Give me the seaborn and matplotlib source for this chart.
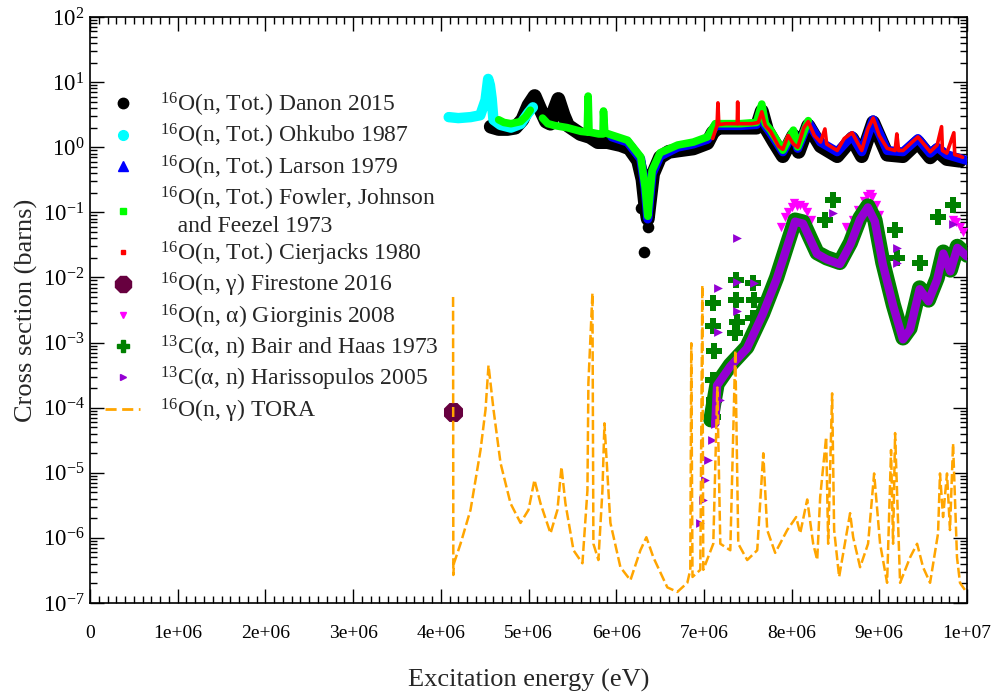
import matplotlib
matplotlib.use('Agg')
import matplotlib.pyplot as plt
from matplotlib.lines import Line2D
from matplotlib.ticker import MultipleLocator, LogLocator, FuncFormatter, NullFormatter, LogFormatterMathtext
import seaborn as sns
import numpy as np

sns.set_style('ticks')
plt.rcParams['font.family'] = ['Liberation Serif', 'DejaVu Serif']
plt.rcParams['mathtext.fontset'] = 'custom'
plt.rcParams['mathtext.rm'] = 'Liberation Serif'
plt.rcParams['mathtext.it'] = 'Liberation Serif:italic'
plt.rcParams['mathtext.bf'] = 'Liberation Serif:bold'

# ------------------------------------------------------------
# data (energies in MeV, cross sections in barns)
# ------------------------------------------------------------
# 16O(n,tot) Danon 2015
danon_e = [4.57, 4.66, 4.76, 4.85, 4.93, 5.00, 5.07, 5.13, 5.20, 5.25, 5.30, 5.34, 5.40, 5.45,
           5.59, 5.70, 5.79, 5.90, 6.05, 6.15, 6.25, 6.30, 6.33, 6.36, 6.38, 6.42, 6.50, 6.60,
           6.70, 6.88, 7.04, 7.10, 7.16, 7.40, 7.60, 7.66, 7.72, 7.80, 7.90, 8.02, 8.08, 8.19,
           8.33, 8.52, 8.69, 8.80, 8.93, 9.09, 9.27, 9.44, 9.58, 9.66, 9.77, 9.92]
danon_xs = [2.07, 1.91, 1.91, 2.0, 2.64, 4.4, 6.1, 3.95, 2.48, 2.3, 3.95, 5.5, 3.1, 2.15,
            1.6, 1.44, 1.2, 1.2, 1.08, 0.96, 0.62, 0.32, 0.136, 0.079, 0.136, 0.39, 0.70, 0.85,
            0.89, 0.96, 1.16, 1.67, 2.0, 2.0, 2.0, 3.6, 1.83, 1.2, 0.73, 1.51, 0.85, 2.15,
            1.04, 0.73, 1.36, 0.73, 2.4, 0.77, 0.73, 1.2, 0.70, 0.89, 0.66, 0.62]
danon_dip_e = [6.28, 6.36, 6.32]
danon_dip_xs = [0.115, 0.059, 0.0245]

# 16O(n,tot) Ohkubo 1987
ohkubo_e = [4.09, 4.20, 4.34, 4.45, 4.51, 4.54, 4.56, 4.58, 4.60, 4.68, 4.80, 4.91, 5.00, 5.05]
ohkubo_xs = [2.9, 2.8, 2.9, 3.1, 5.3, 11.2, 9.0, 5.6, 2.64, 2.2, 2.0, 2.28, 3.4, 4.1]

# 16O(n,tot) Larson 1979
larson_e = [5.95, 6.13, 6.28, 6.33, 6.36, 6.41, 6.50, 6.70, 6.88, 7.04, 7.13, 7.22, 7.42, 7.60,
            7.66, 7.70, 7.76, 7.90, 8.02, 8.07, 8.19, 8.33, 8.52, 8.69, 8.80, 8.93, 9.09, 9.27,
            9.44, 9.58, 9.66, 9.77, 9.92, 10.05]
larson_xs = [1.44, 1.2, 0.66, 0.23, 0.079, 0.39, 0.73, 1.0, 1.12, 1.32, 2.15, 2.15, 2.15, 2.23,
             3.95, 2.15, 1.67, 0.85, 1.67, 0.96, 2.4, 1.2, 0.85, 1.51, 0.85, 2.64, 0.89, 0.85,
             1.36, 0.81, 1.0, 0.77, 0.67, 0.60]

# 16O(n,tot) Fowler, Johnson and Feezel 1973 (two separate runs)
fowler1_e = [4.66, 4.72, 4.80, 4.91, 4.97, 5.02]
fowler1_xs = [2.64, 2.4, 2.3, 2.48, 2.97, 3.7]
fowler2_e = [5.16, 5.22, 5.30, 5.44, 5.60, 5.67, 5.68, 5.69, 5.80, 5.85, 5.855, 5.87, 6.13,
             6.28, 6.33, 6.36, 6.41, 6.50, 6.70, 6.88, 7.04, 7.13, 7.22, 7.42, 7.60, 7.66,
             7.70, 7.76, 7.90, 8.02, 8.07, 8.19]
fowler2_xs = [2.8, 2.3, 2.15, 2.0, 1.75, 1.71, 6.1, 1.71, 1.6, 1.6, 3.6, 1.67, 1.28,
              0.71, 0.24, 0.087, 0.44, 0.82, 1.08, 1.2, 1.44, 2.3, 2.3, 2.3, 2.4, 4.6,
              2.3, 1.83, 0.90, 1.83, 1.01, 2.56]

# 16O(n,tot) Cierjacks 1980
cierjacks_e = [7.10, 7.15, 7.16, 7.17, 7.25, 7.38, 7.385, 7.39, 7.55, 7.62, 7.66, 7.70, 7.76,
               7.85, 7.90, 7.96, 8.02, 8.07, 8.14, 8.19, 8.26, 8.33, 8.38, 8.40, 8.52, 8.60,
               8.69, 8.80, 8.87, 8.93, 9.00, 9.09, 9.18, 9.20, 9.22, 9.27, 9.44, 9.58, 9.66,
               9.71, 9.72, 9.77, 9.85, 9.86, 9.92, 9.95]
cierjacks_xs = [1.36, 2.15, 4.8, 2.23, 2.3, 2.3, 4.95, 2.3, 2.3, 2.4, 3.5, 2.15, 1.75,
                1.04, 0.93, 1.51, 1.12, 1.0, 2.0, 2.48, 1.51, 1.2, 1.91, 1.12, 0.89, 1.36,
                1.67, 0.89, 1.91, 2.8, 1.51, 0.96, 0.89, 1.6, 0.89, 0.89, 1.44, 0.85, 1.08,
                2.07, 0.89, 0.81, 1.67, 0.77, 0.73, 0.70]

# 16O(n,gamma) Firestone 2016
firestone_e = [4.143]
firestone_xs = [8.7e-5]

# 16O(n,alpha) Giorginis 2008
giorginis_e = [7.88, 7.92, 7.96, 8.00, 8.03, 8.06, 8.10, 8.14, 8.18, 8.22, 8.62, 8.70, 8.76,
               8.82, 8.86, 8.89, 8.92, 8.96, 9.00, 9.84, 9.88, 9.92, 9.96]
giorginis_xs = [0.06, 0.085, 0.10, 0.12, 0.14, 0.125, 0.13, 0.12, 0.10, 0.075, 0.06, 0.075, 0.11,
                0.15, 0.18, 0.19, 0.17, 0.13, 0.09, 0.075, 0.07, 0.06, 0.05]

# 13C(alpha,n) Bair and Haas 1973
bair_e = [7.08, 7.15, 7.30, 7.49, 7.67, 7.83, 7.95, 8.04, 8.13, 8.21, 8.29, 8.40, 8.55, 8.67,
          8.78, 8.87, 8.95, 9.04, 9.16, 9.27, 9.35, 9.46, 9.56, 9.66, 9.73, 9.81, 9.89, 10.0]
bair_xs = [6.5e-5, 2.3e-4, 4.5e-4, 8.5e-4, 2.8e-3, 0.010, 0.032, 0.076, 0.071, 0.041, 0.024,
           0.020, 0.017, 0.034, 0.082, 0.125, 0.076, 0.017, 0.0038, 0.00118, 0.00166, 0.0069,
           0.0045, 0.0098, 0.0245, 0.0130, 0.030, 0.022]
bair_pts_e = [7.10, 7.10, 7.11, 7.10, 7.11, 7.10, 7.37, 7.37, 7.38, 7.36, 7.56, 7.57, 7.56,
              8.38, 8.47, 9.18, 9.20, 9.46, 9.67, 9.84]
bair_pts_xs = [0.0040, 0.0018, 7.5e-4, 2.7e-4, 1.29e-4, 7.2e-5, 0.0091, 0.0045, 0.0021, 0.00138,
               0.0082, 0.0045, 0.0024, 0.076, 0.154, 0.053, 0.020, 0.0166, 0.085, 0.129]

# 13C(alpha,n) Harissopulos 2005
har_e = [7.13, 7.15, 7.30, 7.49, 7.67, 7.83, 7.95, 8.04, 8.13, 8.21, 8.29, 8.40, 8.55, 8.67,
         8.78, 8.87, 8.95, 9.04, 9.16, 9.27, 9.35, 9.46, 9.56, 9.66, 9.73, 9.81, 9.89, 10.0]
har_xs = [5.7e-5, 2.2e-4, 4.3e-4, 8.1e-4, 2.7e-3, 0.0095, 0.030, 0.072, 0.067, 0.039, 0.023,
          0.019, 0.016, 0.032, 0.078, 0.119, 0.072, 0.016, 0.0036, 0.00112, 0.00158, 0.0066,
          0.0043, 0.0093, 0.0233, 0.0124, 0.0285, 0.021]
har_pts_e = [6.96, 6.99, 7.01, 7.05, 7.09, 7.13, 7.18, 7.16, 7.16, 7.38, 7.38, 7.38, 7.57,
             8.47, 9.20, 9.20, 9.84]
har_pts_xs = [1.7e-6, 3.8e-6, 7.8e-6, 1.57e-5, 3.2e-5, 5.7e-5, 1.29e-4, 0.0069, 0.00144, 0.040,
              0.0084, 0.0031, 0.0082, 0.098, 0.028, 0.0166, 0.066]

# 16O(n,gamma) TORA, log10 of cross section
tora_e = [4.140, 4.143, 4.150, 4.225, 4.339, 4.453, 4.510, 4.544, 4.601, 4.681, 4.795, 4.909,
          5.000, 5.068, 5.137, 5.251, 5.330, 5.376, 5.421, 5.513, 5.615, 5.672, 5.683, 5.729,
          5.740, 5.797, 5.843, 5.866, 5.911, 5.934, 6.048, 6.162, 6.276, 6.344, 6.424, 6.583,
          6.697, 6.811, 6.845, 6.856, 6.870, 6.959, 6.982, 6.993, 7.107, 7.153, 7.187, 7.301,
          7.358, 7.392, 7.494, 7.608, 7.677, 7.722, 7.813, 7.950, 8.052, 8.098, 8.178, 8.246,
          8.292, 8.326, 8.394, 8.417, 8.462, 8.485, 8.542, 8.667, 8.702, 8.781, 8.872, 8.941,
          9.009, 9.089, 9.134, 9.157, 9.180, 9.237, 9.351, 9.431, 9.499, 9.579, 9.670, 9.692,
          9.727, 9.772, 9.806, 9.841, 9.886, 9.920, 9.977]
tora_log10 = [-2.30, -6.57, -6.39, -6.09, -5.57, -4.65, -4.03, -3.35, -4.03, -4.85, -5.47, -5.77,
              -5.57, -5.11, -5.47, -5.93, -5.57, -4.91, -5.47, -6.19, -6.39, -5.27, -3.62, -2.24,
              -6.09, -6.34, -5.27, -4.24, -5.27, -5.77, -6.45, -6.65, -6.19, -5.99, -6.30, -6.76,
              -6.83, -6.69, -6.49, -3.01, -6.60, -6.49, -2.12, -6.49, -6.09, -3.69, -6.09, -6.19,
              -3.12, -6.09, -6.34, -6.19, -4.70, -5.88, -6.23, -5.88, -5.68, -5.93, -5.41, -6.09,
              -6.34, -5.37, -4.45, -6.09, -3.78, -5.88, -6.60, -5.62, -5.99, -6.45, -6.09, -5.01,
              -6.09, -6.69, -4.65, -6.09, -4.39, -6.69, -6.30, -6.09, -6.45, -6.69, -5.93, -5.01,
              -5.68, -5.01, -5.88, -4.55, -6.30, -6.69, -6.80]

labels = [
    '$^{16}$O(n, Tot.) Danon 2015',
    '$^{16}$O(n, Tot.) Ohkubo 1987',
    '$^{16}$O(n, Tot.) Larson 1979',
    '$^{16}$O(n, Tot.) Fowler, Johnson\n   and Feezel 1973',
    '$^{16}$O(n, Tot.) Cierjacks 1980',
    '$^{16}$O(n, γ) Firestone 2016',
    '$^{16}$O(n, α) Giorginis 2008',
    '$^{13}$C(α, n) Bair and Haas 1973',
    '$^{13}$C(α, n) Harissopulos 2005',
    '$^{16}$O(n, γ) TORA',
]

MEV = 1e6


def mev(values):
    return np.asarray(values) * MEV


def band(ax, e, xs, color, lw, z, **kw):
    sns.lineplot(x=mev(e), y=xs, ax=ax, color=color, linewidth=lw, estimator=None,
                 sort=False, solid_joinstyle='round', solid_capstyle='round', zorder=z, **kw)


fig = plt.figure(figsize=(10.03, 7.0), dpi=100)
ax = fig.add_axes([90 / 1003, 1 - 603 / 700, 877 / 1003, 586 / 700])
ax.set_yscale('log')

band(ax, danon_e, danon_xs, 'black', 10, 2)
sns.scatterplot(x=mev(danon_dip_e), y=danon_dip_xs, ax=ax, color='black', s=70, linewidth=0, zorder=2)
band(ax, ohkubo_e, ohkubo_xs, '#00FFFF', 7.5, 3)
band(ax, larson_e, larson_xs, '#0000FF', 6.5, 4)
band(ax, fowler1_e, fowler1_xs, '#00FF00', 5.5, 5)
band(ax, fowler2_e, fowler2_xs, '#00FF00', 5.5, 5)
band(ax, cierjacks_e, cierjacks_xs, '#FF0000', 2.6, 6)

sns.scatterplot(x=mev(giorginis_e), y=giorginis_xs, ax=ax, color='#FF00FF', marker='v', s=45,
                linewidth=0, zorder=7)
band(ax, bair_e, bair_xs, '#008000', 11, 8)
sns.scatterplot(x=mev(bair_pts_e), y=bair_pts_xs, ax=ax, color='#008000', marker='P', s=130,
                linewidth=0, zorder=8)
band(ax, har_e, har_xs, '#9400D3', 6, 9)
sns.scatterplot(x=mev(har_pts_e), y=har_pts_xs, ax=ax, color='#9400D3', marker='>', s=40,
                linewidth=0, zorder=9)

sns.scatterplot(x=mev(firestone_e), y=firestone_xs, ax=ax, color='#67003F', marker='8', s=220,
                linewidth=0, zorder=10)
sns.lineplot(x=mev(tora_e), y=10 ** np.asarray(tora_log10), ax=ax, color='#FFA500', linewidth=1.8,
             estimator=None, sort=False, linestyle=(0, (4, 1.5)), zorder=11)

# axes like xmgrace
ax.set_xlim(0, 1e7)
ax.set_ylim(1e-7, 1e2)
ax.xaxis.set_major_locator(MultipleLocator(1e6))
ax.xaxis.set_minor_locator(MultipleLocator(1e5))
ax.xaxis.set_major_formatter(FuncFormatter(lambda v, p: '0' if v == 0 else f'{v:.0e}'))
ax.yaxis.set_major_locator(LogLocator(base=10, numticks=20))
ax.yaxis.set_minor_locator(LogLocator(base=10, subs=np.arange(2, 10), numticks=20))
ax.yaxis.set_major_formatter(LogFormatterMathtext())
ax.yaxis.set_minor_formatter(NullFormatter())
ax.tick_params(which='both', direction='in', top=True, right=True, width=1, colors='black')
ax.tick_params(which='major', length=10)
ax.tick_params(axis='x', which='major', pad=15.5, labelsize=14)
ax.tick_params(axis='y', which='major', pad=4, labelsize=16.5)
ax.tick_params(which='minor', length=5)
for s in ax.spines.values():
    s.set_linewidth(1.2)
    s.set_color('black')

ax.set_xlabel('Excitation energy (eV)', fontsize=19, labelpad=20)
ax.set_ylabel('Cross section (barns)', fontsize=19, labelpad=3)

handles = [
    Line2D([], [], ls='none', marker='o', color='black', markersize=7.5),
    Line2D([], [], ls='none', marker='o', color='#00FFFF', markersize=7),
    Line2D([], [], ls='none', marker='^', color='#0000FF', markersize=7),
    Line2D([], [], ls='none', marker='s', color='#00FF00', markersize=4.5),
    Line2D([], [], ls='none', marker='s', color='#FF0000', markersize=2.5),
    Line2D([], [], ls='none', marker='8', color='#67003F', markersize=12),
    Line2D([], [], ls='none', marker='v', color='#FF00FF', markersize=5),
    Line2D([], [], ls='none', marker='P', color='#008000', markersize=9),
    Line2D([], [], ls='none', marker='>', color='#9400D3', markersize=5),
    Line2D([], [], color='#FFA500', lw=2, linestyle=(0, (4, 2))),
]
ax.legend(handles, labels, loc='upper left', bbox_to_anchor=(0.017, (603 - 91) / 586), frameon=False,
          fontsize=17, handlelength=1.5, handletextpad=0.85, labelspacing=0.13,
          borderpad=0, borderaxespad=0)

fig.savefig('out.png', dpi=100)
